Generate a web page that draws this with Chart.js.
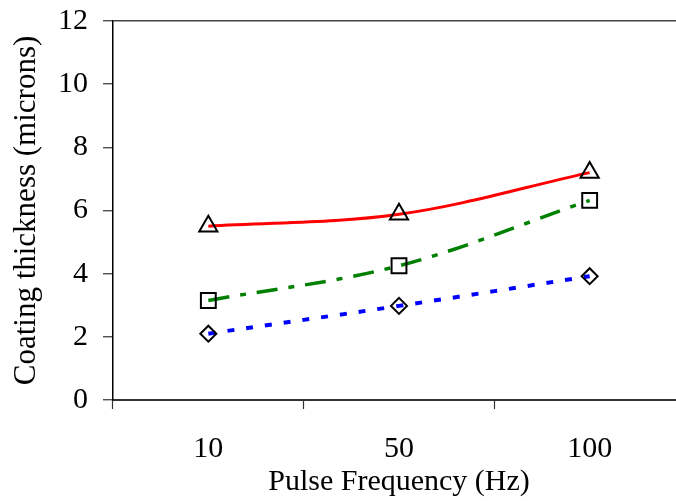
<!DOCTYPE html>
<html>
<head>
<meta charset="utf-8">
<script src="https://cdn.jsdelivr.net/npm/chart.js@4"></script>
<style>
html,body{margin:0;padding:0;overflow:hidden;background:#fff;width:676px;height:501px;}
#wrap{position:absolute;left:0;top:0;width:688px;height:501px;}
#c{display:block;width:688px;height:501px;}
</style>
</head>
<body>
<div id="wrap"><canvas id="c" width="688" height="501"></canvas></div>
<script>
const categories = ['10', '50', '100'];
const triangleSeries = [5.5, 5.88, 7.2];
const squareSeries = [3.15, 4.25, 6.32];
const diamondSeries = [2.1, 2.98, 3.92];
const yMin = 0, yMax = 12, yStep = 2;
const xTitle = 'Pulse Frequency (Hz)';
const yTitle = 'Coating thickness (microns)';

const FONT = {family: "'Liberation Serif', 'Times New Roman', serif", size: 30};
const YTITLE_FONT = {family: "'Liberation Serif', 'Times New Roman', serif", size: 31};

const commonDs = {
  pointBorderColor: '#000',
  pointBackgroundColor: 'rgba(0,0,0,0)',
  pointBorderWidth: 2,
  tension: 0.35,
  fill: false
};

new Chart(document.getElementById('c'), {
  type: 'line',
  data: {
    labels: categories,
    datasets: [
      Object.assign({}, commonDs, {
        data: triangleSeries, borderColor: '#ff0000', borderWidth: 3,
        pointStyle: 'triangle', pointRadius: 10.5, pointHoverRadius: 10.5
      }),
      Object.assign({}, commonDs, {
        data: squareSeries, borderColor: '#008000', borderWidth: 3.5,
        borderDash: [21, 11, 6, 11],
        pointStyle: 'rect', pointRadius: 10.5, pointHoverRadius: 10.5
      }),
      Object.assign({}, commonDs, {
        data: diamondSeries, borderColor: '#0000ff', borderWidth: 4,
        borderDash: [7, 12],
        pointStyle: 'rectRot', pointRadius: 8, pointHoverRadius: 8
      })
    ]
  },
  options: {
    responsive: false,
    animation: false,
    events: [],
    layout: {autoPadding: false, padding: {top: 21, right: 3, left: 0, bottom: 0}},
    plugins: {legend: {display: false}, tooltip: {enabled: false}},
    scales: {
      x: {
        type: 'category',
        offset: true,
        grid: {
          offset: true, drawOnChartArea: false, drawTicks: true,
          tickLength: 9, tickColor: '#333', tickWidth: 1.2
        },
        border: {display: true, color: '#333', width: 2},
        ticks: {font: FONT, color: '#000', padding: 22, maxRotation: 0},
        title: {display: true, text: xTitle, font: FONT, color: '#000', padding: {top: 0, bottom: 1}},
        afterFit: s => { s.height = 101; s.paddingRight = 0; s.paddingLeft = 0; }
      },
      y: {
        min: yMin, max: yMax,
        grid: {
          drawTicks: true, tickLength: 10, tickColor: '#333', tickWidth: 1.2,
          color: c => (c.tick && c.tick.value === yMax) ? '#444' : 'rgba(0,0,0,0)',
          lineWidth: 1.5
        },
        border: {display: true, color: '#000', width: 1.5},
        ticks: {stepSize: yStep, font: FONT, color: '#000', padding: 15},
        title: {display: true, text: yTitle, font: YTITLE_FONT, color: '#000', padding: {top: 8, bottom: 0}},
        afterFit: s => { s.width = 113; s.paddingTop = 0; s.paddingBottom = 0; }
      }
    }
  }
});
</script>
</body>
</html>
